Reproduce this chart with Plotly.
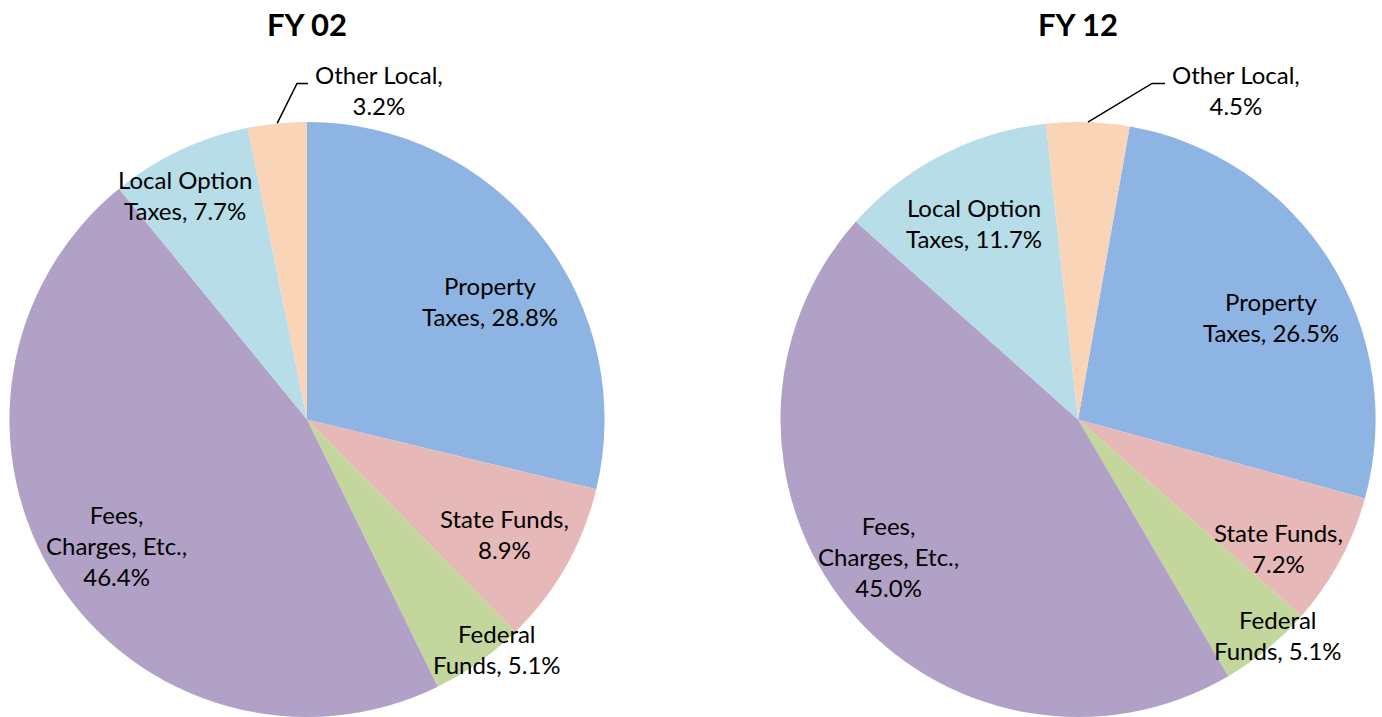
import math
import plotly.graph_objects as go

# ---- data ----
categories = ["Property Taxes", "State Funds", "Federal Funds",
              "Fees, Charges, Etc.", "Local Option Taxes", "Other Local"]
label_templates = ["Property<br>Taxes, {v}", "State Funds,<br>{v}", "Federal<br>Funds, {v}",
                   "Fees,<br>Charges, Etc.,<br>{v}", "Local Option<br>Taxes, {v}", "Other Local,<br>{v}"]
fy02_values = [28.8, 8.9, 5.1, 46.4, 7.7, 3.2]
fy12_values = [26.5, 7.2, 5.1, 45.0, 11.7, 4.5]
titles = ["FY 02", "FY 12"]

colors = ["#8EB4E3", "#E6B8B7", "#C3D69B", "#B2A1C7", "#B7DDE8", "#FAD4B6"]

# ---- layout / style ----
W, H = 1382, 717
FONT = "Lato"
LABEL_SIZE = 24
pies = [
    dict(title=titles[0], values=fy02_values, rotation=0,
         domain=dict(x=[0.0, 0.4443], y=[0.0, 0.83]),
         # (angle nudge deg, radial fraction) for inside labels
         lab=[(5.4, 0.733), (0.5, 0.766), (-4.4, 1.0), (-0.8, 0.769), (-3.2, 0.858)],
         other=dict(text_dx=6, text_dy=-329, seg=11)),
    dict(title=titles[1], values=fy12_values, rotation=10,
         domain=dict(x=[0.5601, 1.0], y=[0.0, 0.83]),
         lab=[(4.4, 0.734), (4.2, 0.80), (-3.3, 0.989), (3.5, 0.785), (-0.65, 0.747)],
         other=dict(text_dx=92, text_dy=-329, seg=13)),
]

fig = go.Figure()
annotations = []
shapes = []


def px2paper(x, y):
    return x / W, 1 - y / H


for p in pies:
    vals = p["values"]
    fig.add_trace(go.Pie(
        labels=categories, values=vals, sort=False, direction="clockwise",
        rotation=p["rotation"], domain=p["domain"],
        marker=dict(colors=colors, line=dict(width=0)),
        textinfo="none", hoverinfo="label+value", showlegend=False,
    ))
    dx, dy = p["domain"]["x"], p["domain"]["y"]
    R = min((dx[1] - dx[0]) * W, (dy[1] - dy[0]) * H) / 2
    cx = (dx[0] + dx[1]) / 2 * W
    cy = (1 - (dy[0] + dy[1]) / 2) * H
    total = sum(vals)
    cum = 0.0
    for i, v in enumerate(vals):
        a0 = cum / total * 360 + p["rotation"]
        cum += v
        a1 = cum / total * 360 + p["rotation"]
        bis = (a0 + a1) / 2
        txt = label_templates[i].format(v=f"{v:.1f}%")
        if i < 5:
            dth, rf = p["lab"][i]
            ang = math.radians(bis + dth)
            lx = cx + rf * R * math.sin(ang)
            ly = cy - rf * R * math.cos(ang)
            xp, yp = px2paper(lx, ly)
            annotations.append(dict(x=xp, y=yp, xref="paper", yref="paper", text=txt,
                                    showarrow=False, xanchor="center", yanchor="middle",
                                    align="center",
                                    font=dict(family=FONT, size=LABEL_SIZE, color="#000000")))
        else:
            o = p["other"]
            ang = math.radians(bis)
            ex = cx + R * math.sin(ang)
            ey = cy - R * math.cos(ang)
            tx = cx + o["text_dx"]
            ty = cy + o["text_dy"]
            hx1 = tx - 5
            hy = ty - 7
            hx0 = hx1 - o["seg"]
            pts = [px2paper(ex, ey), px2paper(hx0, hy), px2paper(hx1, hy)]
            path = "M {} {} L {} {} L {} {}".format(pts[0][0], pts[0][1], pts[1][0], pts[1][1],
                                                    pts[2][0], pts[2][1])
            shapes.append(dict(type="path", path=path, xref="paper", yref="paper",
                               line=dict(color="#000000", width=1.5)))
            xp, yp = px2paper(tx, ty)
            annotations.append(dict(x=xp, y=yp, xref="paper", yref="paper", text=txt,
                                    showarrow=False, xanchor="left", yanchor="middle",
                                    align="center",
                                    font=dict(family=FONT, size=LABEL_SIZE, color="#000000")))
    tx, ty = px2paper(cx, 24)
    annotations.append(dict(x=tx, y=ty, xref="paper", yref="paper", text="<b>" + p["title"] + "</b>",
                            showarrow=False, xanchor="center", yanchor="middle",
                            font=dict(family=FONT, size=31, color="#000000")))

fig.update_layout(
    width=W, height=H, margin=dict(l=0, r=0, t=0, b=0),
    paper_bgcolor="white", plot_bgcolor="white",
    annotations=annotations, shapes=shapes,
)

fig.write_html("out.html",
               config={"displayModeBar": False},
               post_script="document.body.style.margin='0px';document.body.style.overflow='hidden';")
